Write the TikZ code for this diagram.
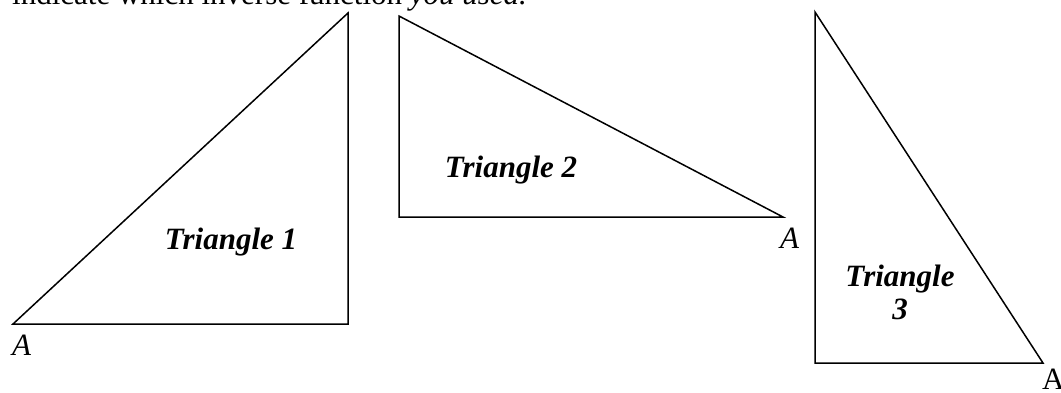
\documentclass[tikz,border=0pt]{standalone}
\usepackage{fontspec}
\setmainfont{Liberation Serif}
\usepackage{tikz}
\usetikzlibrary{positioning}

\begin{document}
\begin{tikzpicture}[x=1pt,y=-1pt,
  side/.style={line width=1.5pt,line join=miter},
  txt/.style={inner sep=0pt,font=\fontsize{31}{33}\selectfont},
  trilabel/.style={txt,font=\fontsize{31}{33}\selectfont\bfseries\itshape,align=center}]
  \useasboundingbox (0,0) rectangle (1061,392);
  \clip (0,0) rectangle (1061,392);
  % line of text cut off at the top
  \node[txt,anchor=base west] (q) at (12,4) {indicate which inverse function \textit{you used.}};
  % triangle 1
  \coordinate (a1) at (13,324);
  \coordinate (b1) at (348,324);
  \coordinate (c1) at (348,13);
  \draw[side] (a1) -- (b1) -- (c1) -- cycle;
  \node[txt,anchor=base west] (la1) at (12,355) {\textit{A}};
  \node[trilabel,anchor=base] (t1) at (231,249) {Triangle 1};
  % triangle 2
  \coordinate (a2) at (783,217);
  \coordinate (b2) at (399,217);
  \coordinate (c2) at (399,16);
  \draw[side] (a2) -- (b2) -- (c2) -- cycle;
  \node[txt,anchor=base west] (la2) at (780,248) {\textit{A}};
  \node[trilabel,anchor=base] (t2) at (511,177) {Triangle 2};
  % triangle 3
  \coordinate (a3) at (1043,363);
  \coordinate (b3) at (815,363);
  \coordinate (c3) at (815,12);
  \draw[side] (a3) -- (b3) -- (c3) -- cycle;
  \node[txt,anchor=base west] (la3) at (1042,389) {A};
  \node[trilabel] (t3) at (900,292) {Triangle\\3};
\end{tikzpicture}
\end{document}
